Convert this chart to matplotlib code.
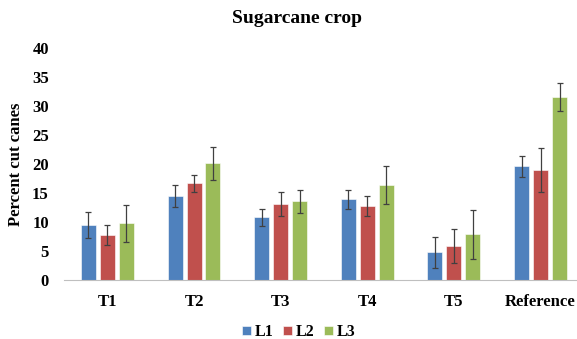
import numpy as np
import matplotlib
matplotlib.use("Agg")
import matplotlib.pyplot as plt

treatments = ["T1", "T2", "T3", "T4", "T5", "Reference"]
series = ["L1", "L2", "L3"]
l1 = [9.5, 14.5, 10.8, 13.9, 4.8, 19.6]
l2 = [7.8, 16.7, 13.1, 12.8, 5.9, 18.9]
l3 = [9.8, 20.1, 13.6, 16.4, 7.9, 31.6]
l1_err = [2.2, 1.9, 1.5, 1.7, 2.7, 1.8]
l2_err = [1.7, 1.5, 2.0, 1.7, 2.9, 3.8]
l3_err = [3.2, 2.9, 2.0, 3.3, 4.2, 2.4]

colors = ["#4F81BD", "#C0504D", "#9BBB59"]

plt.rcParams["font.family"] = ["Liberation Serif", "DejaVu Serif"]
plt.rcParams["font.weight"] = "bold"

fig = plt.figure(figsize=(5.77, 3.39), dpi=100)
ax = fig.add_axes([0.111, 0.174, 0.889, 0.684])

x = np.arange(len(treatments))
step = 0.219
width = 0.173
for k, (vals, errs) in enumerate([(l1, l1_err), (l2, l2_err), (l3, l3_err)]):
    ax.bar(x + (k - 1) * step, vals, width, color=colors[k], label=series[k],
           edgecolor="white", linewidth=0.4,
           yerr=errs, capsize=2.5,
           error_kw=dict(ecolor="#404040", elinewidth=0.9, capthick=0.9))

ax.set_xlim(-0.5, 5.42)
ax.set_ylim(0, 40)
ax.set_yticks(range(0, 41, 5))
ax.set_xticks(x)
ax.set_xticklabels(treatments, fontsize=12, fontweight="bold")
ax.tick_params(axis="y", length=0, labelsize=12, pad=11)
ax.tick_params(axis="x", length=0, pad=10)
for s in ["top", "right", "left"]:
    ax.spines[s].set_visible(False)
ax.spines["bottom"].set_color("#BFBFBF")
ax.spines["bottom"].set_linewidth(0.8)

fig.text(0.515, 0.944, "Sugarcane crop", fontsize=14, fontweight="bold",
         ha="center", va="center")
ax.set_ylabel("Percent cut canes", fontsize=12, fontweight="bold", labelpad=6)

fig.legend(loc="center", bbox_to_anchor=(0.518, 0.02), ncol=3, frameon=False,
           prop=dict(size=11.5, weight="bold"), handlelength=0.55, handleheight=0.55,
           handletextpad=0.25, columnspacing=0.6)

fig.savefig("out.png", dpi=100)
